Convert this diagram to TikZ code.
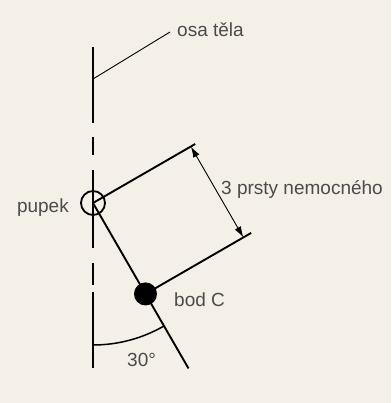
\documentclass[tikz,border=0pt]{standalone}
\usepackage{fontspec}
\setmainfont{Liberation Sans}
\usetikzlibrary{arrows.meta,calc}
\definecolor{paper}{RGB}{244,239,231}
\definecolor{labelgrey}{RGB}{75,75,75}
\begin{document}
\begin{tikzpicture}[x=1pt,y=1pt,
  axisline/.style={line width=2pt,black},
  mainline/.style={line width=1.9pt,black},
  thinline/.style={line width=0.9pt,black},
  lbl/.style={font=\fontsize{19}{21}\selectfont,text=labelgrey,inner sep=0pt},
  dimarrow/.style={thinline,{Latex[length=11pt,width=7pt]}-{Latex[length=11pt,width=7pt]}}
]
\fill[paper] (0,0) rectangle (391,403);
\useasboundingbox (0,0) rectangle (391,403);
% points
\coordinate (P) at (93,200);
\coordinate (axtop) at (93,356);
\coordinate (axbot) at (93,35);
\coordinate (C) at ($(P)+(-60:105)$);
\coordinate (tiltend) at ($(P)+(-60:191)$);
\coordinate (U) at ($(P)+(30:118)$);
\coordinate (L) at ($(C)+(30:122)$);
\coordinate (A1) at ($(P)+(30:113)$);
\coordinate (A2) at ($(C)+(30:113)$);
\coordinate (lead1) at (93,324);
\coordinate (lead2) at (170,371);
% body axis (broken)
\draw[axisline] (axtop) -- (93,280);
\draw[axisline] (93,266) -- (93,248);
\draw[axisline] (93,233) -- (93,155);
\draw[axisline] (93,140) -- (93,118);
\draw[axisline] (93,111) -- (axbot);
% leader
\draw[thinline] (lead1) -- (lead2);
\node[lbl,anchor=base west] (osa) at (177,366) {osa těla};
% tilted line and perpendiculars
\draw[mainline] (P) -- (tiltend);
\draw[mainline] (P) -- (U);
\draw[mainline] (C) -- (L);
% navel circle and point C
\node[draw,circle,line width=1.8pt,minimum size=24pt,inner sep=0pt] (navel) at (P) {};
\node[fill=black,circle,minimum size=23pt,inner sep=0pt] (bodC) at (C) {};
% dimension arrow
\draw[dimarrow] (A1) -- (A2);
% angle arc
\draw[line width=1.5pt] ($(P)+(-90:142)$) arc[start angle=-90,end angle=-60,radius=142pt];
% labels
\node[lbl,anchor=base west] (prsty) at (221,208) {3 prsty nemocného};
\node[lbl,anchor=base east] (pupek) at (69,190) {pupek};
\node[lbl,anchor=base west] (bodClbl) at (174,96) {bod C};
\node[lbl,anchor=base west] (angle) at (127,36) {30°};
\end{tikzpicture}
\end{document}
